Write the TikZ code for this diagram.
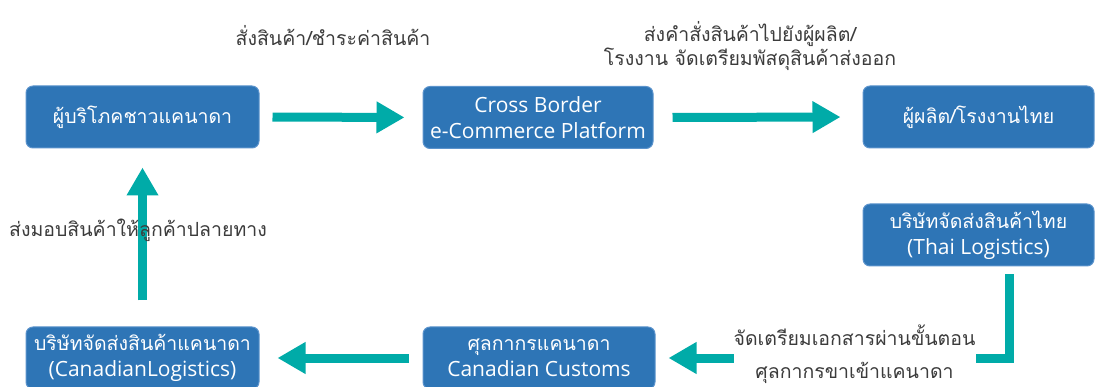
\documentclass[tikz,border=0pt]{standalone}
\usepackage{fontspec}
\setmainfont[Script=Thai]{Loma}
\newfontfamily\latfont{Open Sans}
\usetikzlibrary{arrows.meta}
\definecolor{boxblue}{HTML}{2E75B6}
\definecolor{boxedge}{HTML}{5B93CC}
\definecolor{arrteal}{HTML}{00ABA8}
\definecolor{labelgray}{HTML}{3C3C3C}
\begin{document}
\begin{tikzpicture}[x=1pt,y=-1pt,
  box/.style={draw=boxedge, line width=1pt, fill=boxblue, rounded corners=7pt,
    text=white, align=center, font=\fontsize{19.5}{26}\selectfont, inner sep=0pt},
  lab/.style={text=labelgray, align=center, font=\fontsize{19.5}{24}\selectfont, inner sep=0pt},
  flow/.style={draw=arrteal, line width=9pt, -{Triangle[width=30pt,length=28pt]}},
]
\useasboundingbox (0,0) rectangle (1095,387);
\node[box, minimum width=233pt, minimum height=62pt] (cons) at (142.5,117) {ผู้บริโภคชาวแคนาดา};
\node[box, minimum width=230pt, minimum height=62pt] (plat) at (538,117.5) {{\latfont\fontsize{21}{26}\selectfont Cross Border}\\{\latfont\fontsize{21}{26}\selectfont e-Commerce Platform}};
\node[box, minimum width=231pt, minimum height=62pt] (mfr) at (978.5,117) {ผู้ผลิต/โรงงานไทย};
\node[box, minimum width=231pt, minimum height=62pt] (thl) at (978.5,235) {บริษัทจัดส่งสินค้าไทย\\{\latfont\fontsize{21}{26}\selectfont (Thai Logistics)}};
\node[box, minimum width=232pt, minimum height=62pt] (cus) at (539,358) {ศุลกากรแคนาดา\\{\latfont\fontsize{21}{26}\selectfont Canadian Customs}};
\node[box, minimum width=233pt, minimum height=62pt] (cal) at (142.5,358) {บริษัทจัดส่งสินค้าแคนาดา\\{\latfont\fontsize{21}{26}\selectfont (CanadianLogistics)}};

\draw[flow, shorten <=13pt, shorten >=18pt] (cons.east) -- (plat.west);
\draw[flow, shorten <=19pt, shorten >=22pt] (plat.east) -- (mfr.west);
\draw[flow, shorten <=8pt, shorten >=13pt] ([xshift=30.5pt]thl.south) |- (cus.east);
\draw[flow, shorten <=14pt, shorten >=18pt] (cus.west) -- (cal.east);
\draw[flow, shorten <=26pt, shorten >=19pt] (cal.north) -- (cons.south);

\node[lab] (l1) at (333,36) {สั่งสินค้า/ชำระค่าสินค้า};
\node[lab, font=\fontsize{19.5}{22.5}\selectfont] (l2) at (750,46) {ส่งคำสั่งสินค้าไปยังผู้ผลิต/\\โรงงาน จัดเตรียมพัสดุสินค้าส่งออก};
\node[lab, fill=white, minimum width=242pt, font=\fontsize{19.5}{33}\selectfont] (l3) at (854.5,354) {จัดเตรียมเอกสารผ่านขั้นตอน\\ศุลกากรขาเข้าแคนาดา};
\node[lab] (l4) at (138,230) {ส่งมอบสินค้าให้ลูกค้าปลายทาง};
\end{tikzpicture}
\end{document}
